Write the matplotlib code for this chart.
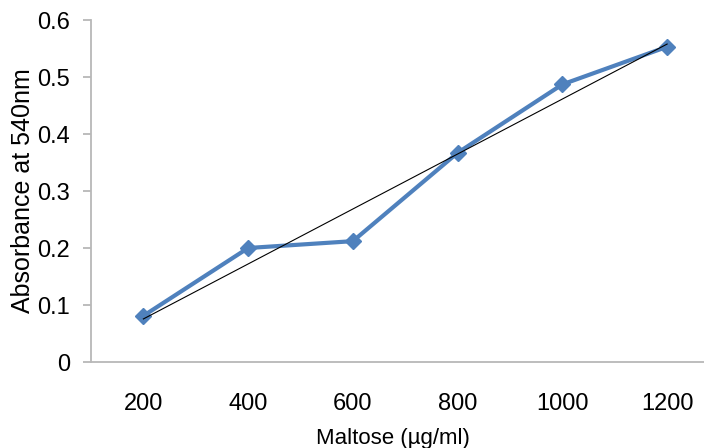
import matplotlib.pyplot as plt
import numpy as np

# ======= DATA ==========
maltose = ["200", "400", "600", "800", "1000", "1200"]
absorbance = [0.081, 0.200, 0.212, 0.367, 0.487, 0.553]
yticks = [0, 0.1, 0.2, 0.3, 0.4, 0.5, 0.6]
ytick_labels = ["0", "0.1", "0.2", "0.3", "0.4", "0.5", "0.6"]
xlabel = "Maltose (µg/ml)"
ylabel = "Absorbance at 540nm"
# =======================

plt.rcParams['font.family'] = ['Liberation Sans', 'DejaVu Sans']

fig = plt.figure(figsize=(7.04, 4.48), dpi=100)
W, H = 704, 448
# axes box in pixels: left 91, right 719 (runs past the image like the original), top 20, bottom 362
ax = fig.add_axes([91 / W, (H - 362) / H, (719.5 - 91) / W, (362 - 20) / H])

x = np.arange(len(maltose))
ax.plot(x, absorbance, color="#4F81BD", linewidth=3.0, marker="D", markersize=8.5, zorder=3)

# linear trendline
coef = np.polyfit(x, absorbance, 1)
ax.plot(x, np.polyval(coef, x), color="black", linewidth=0.8, zorder=4)

ax.set_xlim(-0.5, len(maltose) - 0.5)
ax.set_ylim(0, 0.6)
ax.set_xticks(x)
ax.set_xticklabels(maltose, fontsize=17)
ax.set_yticks(yticks)
ax.set_yticklabels(ytick_labels, fontsize=17)

for s in ["top", "right"]:
    ax.spines[s].set_visible(False)
for s in ["left", "bottom"]:
    ax.spines[s].set_color("#b8b8b8")
    ax.spines[s].set_linewidth(1.3)

ax.tick_params(axis="y", direction="out", length=6, width=1.3, color="#b8b8b8", pad=9)
ax.tick_params(axis="x", length=0, pad=22)

ax.set_xlabel(xlabel, fontsize=16)
ax.set_ylabel(ylabel, fontsize=18)
ax.xaxis.set_label_coords((392.5 - 91) / (719.5 - 91), -(438 - 362) / (362 - 20))
ax.yaxis.set_label_coords(-(91 - 23) / (719.5 - 91), 0.5)
ax.xaxis.label.set_va("center")
ax.yaxis.label.set_va("center")

fig.savefig("out.png", dpi=100)
plt.close()
